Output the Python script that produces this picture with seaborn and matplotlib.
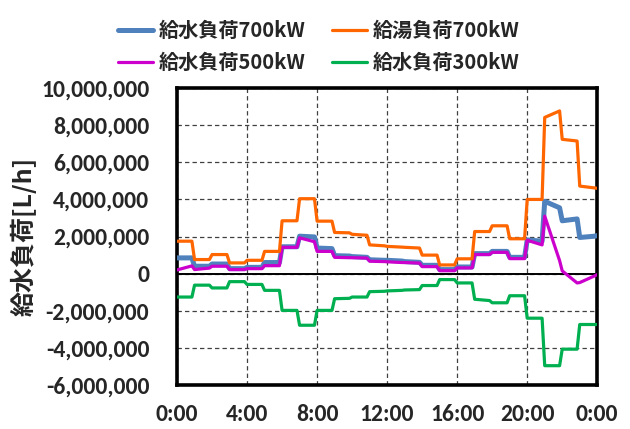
import numpy as np
import pandas as pd
import matplotlib
matplotlib.use("Agg")
import matplotlib.pyplot as plt
from matplotlib.ticker import FuncFormatter, MultipleLocator
import seaborn as sns

# Hourly load profiles in million L/h: for every hour the value at the
# start of the hour and just before the next change, then the 24:00 value.
water_700 = [0.85, 0.85, 0.40, 0.40, 0.52, 0.52, 0.27, 0.27, 0.34, 0.34, 0.60, 0.60,
             1.45, 1.45, 2.02, 1.98, 1.38, 1.35, 0.97, 0.95, 0.92, 0.88, 0.75, 0.72,
             0.72, 0.68, 0.65, 0.61, 0.45, 0.45, 0.22, 0.22, 0.36, 0.36, 1.08, 1.08,
             1.20, 1.20, 0.88, 0.88, 1.82, 1.75, 3.90, 3.55, 2.85, 2.95, 1.95, 2.02,
             2.05]
hot_700 = [1.75, 1.75, 0.76, 0.76, 1.03, 1.03, 0.58, 0.58, 0.72, 0.72, 1.20, 1.20,
           2.85, 2.85, 4.04, 4.04, 2.83, 2.83, 2.22, 2.20, 2.12, 2.07, 1.55, 1.50,
           1.47, 1.43, 1.42, 1.38, 1.00, 1.00, 0.47, 0.47, 0.80, 0.80, 2.27, 2.27,
           2.58, 2.58, 1.88, 1.88, 4.00, 4.00, 8.42, 8.77, 7.24, 7.15, 4.72, 4.62,
           4.60]
water_500 = [0.20, 0.42, 0.22, 0.30, 0.40, 0.40, 0.22, 0.22, 0.27, 0.27, 0.43, 0.43,
             1.42, 1.42, 1.93, 1.72, 1.20, 1.20, 0.88, 0.86, 0.86, 0.84, 0.67, 0.65,
             0.64, 0.60, 0.60, 0.57, 0.38, 0.38, 0.16, 0.16, 0.31, 0.31, 1.03, 1.03,
             1.15, 1.15, 0.81, 0.81, 1.80, 1.55, 3.10, 0.70, 0.15, -0.50, -0.48, -0.12,
             -0.05]
water_300 = [-1.26, -1.26, -0.62, -0.62, -0.77, -0.77, -0.43, -0.43, -0.58, -0.58, -0.90, -0.90,
             -1.98, -1.98, -2.78, -2.78, -1.98, -1.98, -1.35, -1.33, -1.26, -1.26, -0.97, -0.95,
             -0.93, -0.90, -0.88, -0.86, -0.64, -0.64, -0.32, -0.32, -0.50, -0.50, -1.38, -1.45,
             -1.57, -1.57, -1.19, -1.19, -2.40, -2.40, -4.96, -4.96, -4.07, -4.07, -2.74, -2.74,
             -2.74]

series_names = ["給水負荷700kW", "給水負荷500kW", "給湯負荷700kW", "給水負荷300kW"]
series_values = [water_700, water_500, hot_700, water_300]
series_colors = ["#4F81BD", "#CC00CC", "#FF6600", "#00B050"]
series_widths = [3.6, 2.3, 2.3, 2.3]

x_tick_labels = ["0:00", "4:00", "8:00", "12:00", "16:00", "20:00", "0:00"]

# time axis in hours: start of each hour and shortly before the next one
hours = np.arange(24)
t = np.append(np.column_stack([hours, hours + 0.85]).ravel(), 24.0)

sns.set_theme(style="white")
plt.rcParams["font.family"] = ["Carlito", "Noto Sans CJK JP", "DejaVu Sans"]
plt.rcParams["font.weight"] = "bold"
jp_family = ["Noto Sans CJK JP", "DejaVu Sans"]

fig = plt.figure(figsize=(6.3, 4.29), dpi=100)
ax = fig.add_axes([0.281, 0.1026, 0.667, 0.692])

handles = []
for name, vals, col, lw in zip(series_names, series_values, series_colors, series_widths):
    df = pd.DataFrame({"time": t, "load": np.array(vals) * 1e6})
    sns.lineplot(data=df, x="time", y="load", ax=ax, color=col, linewidth=lw,
                 label=name, legend=False, zorder=3)
    handles.append(ax.lines[-1])

ax.axhline(0, color="black", linewidth=1.4, zorder=2)

ax.set_xlim(0, 24)
ax.set_ylim(-6e6, 10e6)
ax.yaxis.set_major_locator(MultipleLocator(2e6))
ax.set_xticks(np.arange(0, 25, 4))
ax.set_xticklabels(x_tick_labels)
ax.yaxis.set_major_formatter(FuncFormatter(lambda v, p: f"{v:,.0f}"))

ax.grid(True, which="major", linestyle=(0, (3.5, 2.5)), color="#404040", linewidth=0.9)
for s in ax.spines.values():
    s.set_visible(True)
    s.set_color("black")
    s.set_linewidth(2.6)

ax.tick_params(axis="both", length=0, labelsize=17)
ax.tick_params(axis="y", pad=20)
ax.tick_params(axis="x", pad=14)
for lab in ax.get_xticklabels() + ax.get_yticklabels():
    lab.set_fontweight("bold")

ax.set_xlabel("")
ax.set_ylabel("給水負荷[L/h]", fontsize=18, fontweight="bold", family=jp_family)
ax.yaxis.set_label_coords(-0.335, 0.5)

fig.legend(handles=handles, labels=series_names, ncol=2, loc="upper left",
           bbox_to_anchor=(0.158, 0.995), frameon=False,
           prop={"size": 14.5, "weight": "bold", "family": jp_family},
           handlelength=1.75, handletextpad=0.3, columnspacing=1.3,
           labelspacing=0.55)

fig.savefig("out.png", dpi=100)
